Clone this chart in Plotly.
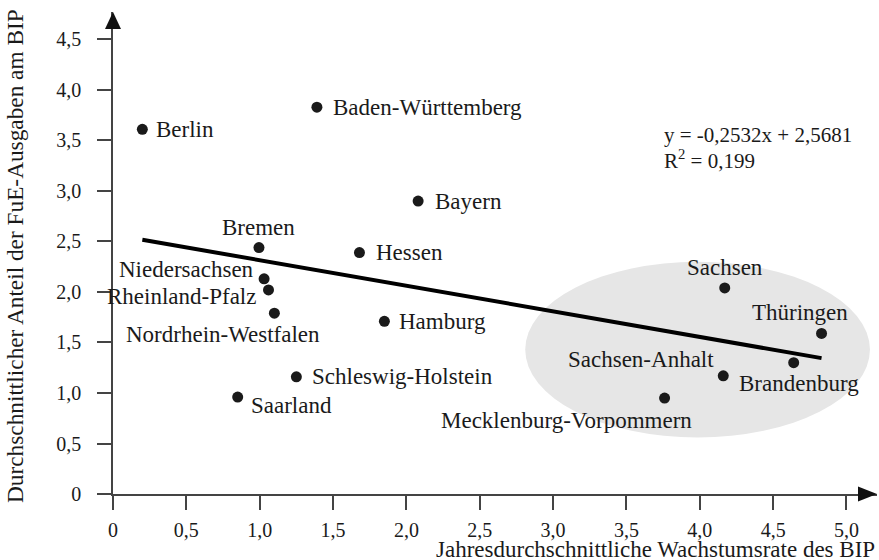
import plotly.graph_objects as go

# ---------------- data ----------------
states = ["Berlin", "Baden-Württemberg", "Bayern", "Bremen", "Hessen",
          "Niedersachsen", "Rheinland-Pfalz", "Nordrhein-Westfalen", "Hamburg",
          "Schleswig-Holstein", "Saarland", "Sachsen", "Thüringen",
          "Brandenburg", "Sachsen-Anhalt", "Mecklenburg-Vorpommern"]
growth = [0.20, 1.39, 2.08, 0.995, 1.68, 1.03, 1.06, 1.10, 1.85, 1.25,
          0.85, 4.17, 4.83, 4.64, 4.16, 3.76]
rd_share = [3.61, 3.83, 2.90, 2.44, 2.39, 2.13, 2.02, 1.79, 1.71, 1.16,
            0.96, 2.04, 1.59, 1.30, 1.17, 0.95]

slope = -0.2532
intercept = 2.5681
r_squared = "0,199"

x_ticks = [0, 0.5, 1.0, 1.5, 2.0, 2.5, 3.0, 3.5, 4.0, 4.5, 5.0]
x_ticktext = ["0", "0,5", "1,0", "1,5", "2,0", "2,5", "3,0", "3,5", "4,0", "4,5", "5,0"]
y_ticks = [0, 0.5, 1.0, 1.5, 2.0, 2.5, 3.0, 3.5, 4.0, 4.5]
y_ticktext = ["0", "0,5", "1,0", "1,5", "2,0", "2,5", "3,0", "3,5", "4,0", "4,5"]

x_title = "Jahresdurchschnittliche Wachstumsrate des BIP"
y_title = "Durchschnittlicher Anteil der FuE-Ausgaben am BIP"

# grey ellipse around the eastern states (data units)
ellipse_box = dict(x0=2.81, x1=5.16, y0=0.56, y1=2.30)

# ---------------- style / layout ----------------
FONT = "Liberation Serif, Times New Roman, serif"
TXT = "#1a1a1a"
AX = "#444444"
W, H = 879, 560
L, R, T, B = 113, 2, 12, 66
PW, PH = W - L - R, H - T - B
X_RANGE = [0, 5.208]
Y_RANGE = [0, 4.772]

label_pos = {  # xanchor, xshift(px), yshift(px)
    "Berlin": ("left", 12, 0),
    "Baden-Württemberg": ("left", 14, 0),
    "Bayern": ("left", 15, 0),
    "Bremen": ("center", 0, 20),
    "Hessen": ("left", 15, 0),
    "Niedersachsen": ("right", -8, 9),
    "Rheinland-Pfalz": ("right", -11, -7),
    "Nordrhein-Westfalen": ("center", -51, -21),
    "Hamburg": ("left", 13, 0),
    "Schleswig-Holstein": ("left", 14, 0),
    "Saarland": ("left", 11, -8),
    "Sachsen": ("center", 0, 20),
    "Thüringen": ("center", -22, 21),
    "Brandenburg": ("center", 5, -21),
    "Sachsen-Anhalt": ("right", -7, 16),
    "Mecklenburg-Vorpommern": ("right", 29, -22),
}

fig = go.Figure()

# ellipse
fig.add_shape(type="circle", xref="x", yref="y", layer="below",
              fillcolor="#e6e6e6", line=dict(width=0), **ellipse_box)

# regression line over the data range
x_line = [min(growth), max(growth)]
y_line = [slope * v + intercept for v in x_line]
fig.add_trace(go.Scatter(x=x_line, y=y_line, mode="lines",
                         line=dict(color="#000000", width=4),
                         hoverinfo="skip", showlegend=False))

# points
fig.add_trace(go.Scatter(x=growth, y=rd_share, mode="markers",
                         marker=dict(color="#1a1a1a", size=11),
                         text=states, hoverinfo="text", showlegend=False,
                         cliponaxis=False))

annotations = []
for name, gx, gy in zip(states, growth, rd_share):
    anchor, dx, dy = label_pos[name]
    annotations.append(dict(x=gx, y=gy, xref="x", yref="y", text=name,
                            showarrow=False, xanchor=anchor, yanchor="middle",
                            xshift=dx, yshift=dy,
                            font=dict(family=FONT, size=23, color=TXT)))

# equation
eq_line1 = "y = " + f"{slope:.4f}".replace(".", ",") + "x + " + f"{intercept:.4f}".replace(".", ",")
annotations.append(dict(x=3.74, y=3.555, xref="x", yref="y", text=eq_line1,
                        showarrow=False, xanchor="left", yanchor="middle",
                        font=dict(family=FONT, size=21, color=TXT)))
annotations.append(dict(x=3.74, y=3.31, xref="x", yref="y",
                        text="R<sup>2</sup> = " + r_squared,
                        showarrow=False, xanchor="left", yanchor="middle",
                        font=dict(family=FONT, size=21, color=TXT)))

# axis titles
annotations.append(dict(x=1.0, y=-(535 - (T + PH)) / PH, xref="paper", yref="paper",
                        text=x_title, showarrow=False, xanchor="right", yanchor="top",
                        font=dict(family=FONT, size=23, color=TXT)))
annotations.append(dict(x=(15 - L) / PW, y=(T + PH - 256) / PH, xref="paper", yref="paper",
                        text=y_title, showarrow=False, textangle=-90,
                        xanchor="center", yanchor="middle",
                        font=dict(family=FONT, size=23.3, color=TXT)))

# arrowheads (paper coords)
ax_len, ax_half = 19, 7.5
xa_base = 1 - ax_len / PW
fig.add_shape(type="path", xref="paper", yref="paper",
              path=f"M 1,0 L {xa_base},{ax_half / PH} L {xa_base},{-ax_half / PH} Z",
              fillcolor="#111111", line=dict(width=0))
ya_len, ya_half = 17, 8
ya_base = 1 - ya_len / PH
fig.add_shape(type="path", xref="paper", yref="paper",
              path=f"M 0,1 L {ya_half / PW},{ya_base} L {-ya_half / PW},{ya_base} Z",
              fillcolor="#111111", line=dict(width=0))

fig.update_layout(
    width=W, height=H, autosize=False,
    margin=dict(l=L, r=R, t=T, b=B, pad=0),
    paper_bgcolor="white", plot_bgcolor="white",
    showlegend=False,
    annotations=annotations,
    font=dict(family=FONT, color=TXT),
)
fig.update_xaxes(range=X_RANGE, tickvals=x_ticks, ticktext=x_ticktext,
                 showgrid=False, zeroline=False, showline=True, linecolor=AX,
                 linewidth=1.5, ticks="outside", ticklen=14, tickwidth=1.5,
                 tickcolor=AX, tickfont=dict(family=FONT, size=20, color=TXT),
                 ticklabelstandoff=3, fixedrange=True)
fig.update_yaxes(range=Y_RANGE, tickvals=y_ticks, ticktext=y_ticktext,
                 showgrid=False, zeroline=False, showline=True, linecolor=AX,
                 linewidth=1.5, ticks="outside", ticklen=14, tickwidth=1.5,
                 tickcolor=AX, tickfont=dict(family=FONT, size=20, color=TXT),
                 ticklabelstandoff=12, fixedrange=True)

fig.write_html("out.html", config={"displayModeBar": False},
               post_script="document.body.style.margin='0';document.body.style.overflow='hidden';")
